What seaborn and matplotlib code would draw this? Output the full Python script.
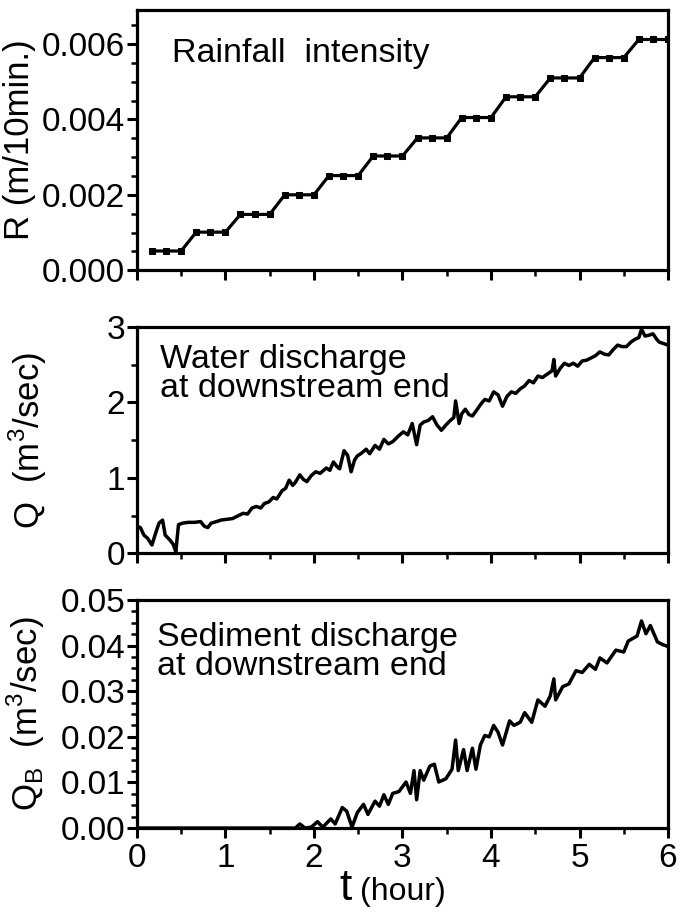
import matplotlib
matplotlib.use("Agg")
import matplotlib.pyplot as plt
import seaborn as sns
import pandas as pd
from matplotlib.ticker import MultipleLocator

sns.set_style("ticks")
plt.rcParams['font.family'] = ['Liberation Sans', 'DejaVu Sans']
plt.rcParams['mathtext.fontset'] = 'custom'
plt.rcParams['mathtext.rm'] = 'Liberation Sans'
for key in ['text.color', 'axes.labelcolor', 'xtick.color', 'ytick.color', 'axes.edgecolor']:
    plt.rcParams[key] = 'black'

# rainfall intensity, one point every 10 minutes
rain_t = [0.17, 0.33, 0.50, 0.67, 0.83, 1.00, 1.17, 1.33, 1.50, 1.67, 1.83, 2.00,
          2.17, 2.33, 2.50, 2.67, 2.83, 3.00, 3.17, 3.33, 3.50, 3.67, 3.83, 4.00,
          4.17, 4.33, 4.50, 4.67, 4.83, 5.00, 5.17, 5.33, 5.50, 5.67, 5.83, 6.00]
rain_r = [0.00051, 0.00051, 0.00051, 0.00101, 0.00101, 0.00101,
          0.00148, 0.00148, 0.00148, 0.00200, 0.00200, 0.00200,
          0.00251, 0.00251, 0.00251, 0.00303, 0.00303, 0.00303,
          0.00351, 0.00351, 0.00351, 0.00405, 0.00405, 0.00405,
          0.00460, 0.00460, 0.00460, 0.00510, 0.00510, 0.00510,
          0.00564, 0.00564, 0.00564, 0.00612, 0.00612, 0.00612]

# water discharge
q_t = [0.00, 0.04, 0.08, 0.12, 0.17, 0.21, 0.25, 0.29, 0.32, 0.37,
       0.41, 0.44, 0.47, 0.52, 0.58, 0.65, 0.72, 0.76, 0.80, 0.84,
       0.90, 0.95, 1.02, 1.08, 1.15, 1.20, 1.25, 1.30, 1.35, 1.40,
       1.44, 1.49, 1.54, 1.58, 1.64, 1.68, 1.72, 1.76, 1.79, 1.84,
       1.88, 1.92, 1.97, 2.02, 2.07, 2.14, 2.18, 2.22, 2.26, 2.29,
       2.34, 2.38, 2.42, 2.46, 2.49, 2.54, 2.59, 2.63, 2.69, 2.74,
       2.79, 2.84, 2.89, 2.95, 3.01, 3.06, 3.11, 3.16, 3.20, 3.24,
       3.29, 3.34, 3.39, 3.44, 3.49, 3.54, 3.58, 3.60, 3.64, 3.67,
       3.71, 3.75, 3.79, 3.84, 3.88, 3.93, 3.98, 4.03, 4.08, 4.13,
       4.18, 4.23, 4.28, 4.33, 4.38, 4.43, 4.48, 4.53, 4.58, 4.64,
       4.69, 4.71, 4.73, 4.78, 4.83, 4.88, 4.93, 4.98, 5.03, 5.08,
       5.13, 5.18, 5.23, 5.28, 5.33, 5.38, 5.43, 5.48, 5.53, 5.58,
       5.63, 5.67, 5.70, 5.74, 5.78, 5.83, 5.87, 5.90, 5.95, 6.00]
q_val = [0.36, 0.34, 0.24, 0.20, 0.11, 0.26, 0.40, 0.44, 0.24, 0.18,
         0.12, 0.02, 0.38, 0.40, 0.41, 0.41, 0.42, 0.36, 0.34, 0.40,
         0.42, 0.44, 0.45, 0.46, 0.50, 0.53, 0.52, 0.60, 0.62, 0.60,
         0.66, 0.68, 0.74, 0.72, 0.83, 0.86, 0.97, 0.90, 0.94, 1.04,
         0.98, 0.95, 1.03, 1.08, 1.06, 1.13, 1.10, 1.21, 1.15, 1.12,
         1.36, 1.30, 1.08, 1.24, 1.29, 1.33, 1.38, 1.32, 1.43, 1.38,
         1.51, 1.45, 1.48, 1.55, 1.61, 1.57, 1.72, 1.44, 1.70, 1.74,
         1.76, 1.81, 1.70, 1.63, 1.70, 1.76, 1.80, 2.02, 1.72, 1.85,
         1.91, 1.84, 1.82, 1.90, 1.97, 2.04, 2.02, 2.14, 2.10, 1.95,
         2.08, 2.14, 2.12, 2.18, 2.22, 2.29, 2.26, 2.35, 2.33, 2.38,
         2.42, 2.57, 2.35, 2.45, 2.52, 2.49, 2.52, 2.48, 2.55, 2.56,
         2.59, 2.62, 2.67, 2.64, 2.63, 2.70, 2.76, 2.74, 2.74, 2.80,
         2.84, 2.86, 2.97, 2.88, 2.89, 2.91, 2.84, 2.80, 2.78, 2.76]

# sediment discharge
qb_t = [0.00, 1.79, 1.84, 1.90, 1.97, 2.04, 2.10, 2.19, 2.24, 2.32,
        2.37, 2.43, 2.49, 2.56, 2.61, 2.69, 2.74, 2.79, 2.84, 2.89,
        2.96, 3.04, 3.09, 3.13, 3.16, 3.20, 3.24, 3.31, 3.36, 3.41,
        3.49, 3.56, 3.60, 3.63, 3.69, 3.73, 3.79, 3.83, 3.88, 3.93,
        3.98, 4.03, 4.08, 4.13, 4.21, 4.26, 4.33, 4.38, 4.46, 4.53,
        4.61, 4.67, 4.71, 4.73, 4.81, 4.88, 4.96, 5.03, 5.11, 5.18,
        5.23, 5.31, 5.41, 5.50, 5.55, 5.65, 5.70, 5.75, 5.80, 5.88,
        5.94, 6.00]
qb_val = [0.0, 0.0, 0.0009, 0.0, 0.0002, 0.0014, 0.0002, 0.0020, 0.0009, 0.0045,
          0.0037, 0.0002, 0.0034, 0.0052, 0.0030, 0.0059, 0.0048, 0.0073, 0.0052, 0.0076,
          0.0080, 0.0101, 0.0076, 0.0126, 0.0062, 0.0126, 0.0105, 0.0136, 0.0140, 0.0101,
          0.0108, 0.0129, 0.0193, 0.0126, 0.0172, 0.0126, 0.0175, 0.0129, 0.0182, 0.0203,
          0.0200, 0.0225, 0.0210, 0.0182, 0.0235, 0.0225, 0.0232, 0.0253, 0.0232, 0.0281,
          0.0267, 0.0290, 0.0327, 0.0281, 0.0310, 0.0316, 0.0345, 0.0341, 0.0359, 0.0348,
          0.0373, 0.0362, 0.0390, 0.0386, 0.0410, 0.0421, 0.0454, 0.0426, 0.0444, 0.0408,
          0.0402, 0.0398]

rain_df = pd.DataFrame({'t': rain_t, 'R': rain_r})
q_df = pd.DataFrame({'t': q_t, 'Q': q_val})
qb_df = pd.DataFrame({'t': qb_t, 'QB': qb_val})

fig = plt.figure(figsize=(6.81, 9.16), dpi=100)
ax1 = fig.add_axes([0.201, 0.705, 0.780, 0.284])
ax2 = fig.add_axes([0.201, 0.396, 0.780, 0.247])
ax3 = fig.add_axes([0.201, 0.096, 0.780, 0.249])

sns.lineplot(data=rain_df, x='t', y='R', ax=ax1, color='black', lw=2.3,
             marker='s', markersize=4.5, markeredgecolor='black')
sns.lineplot(data=q_df, x='t', y='Q', ax=ax2, color='black', lw=2.5)
sns.lineplot(data=qb_df, x='t', y='QB', ax=ax3, color='black', lw=2.5)

for ax in (ax1, ax2, ax3):
    ax.set_xlim(0, 6)
    ax.xaxis.set_major_locator(MultipleLocator(1))
    ax.xaxis.set_minor_locator(MultipleLocator(0.5))
    for s in ax.spines.values():
        s.set_linewidth(2.3)
        s.set_color('black')
    ax.tick_params(which='major', direction='out', length=7, width=2.2, labelsize=24, pad=1.5,
                   colors='black')
    ax.tick_params(which='minor', direction='out', length=4, width=1.8, colors='black')
    ax.set_xlabel('')

ax1.set_ylim(0, 0.0069)
ax1.yaxis.set_minor_locator(MultipleLocator(0.0005))
ax1.set_yticks([0, 0.002, 0.004, 0.006])
ax1.set_yticklabels(['0.000', '0.002', '0.004', '0.006'])
ax1.tick_params(labelbottom=False)
ax1.set_ylabel('R (m/10min.)', fontsize=25)
ax1.yaxis.set_label_coords(-0.19, 0.5)
ax1.text(0.067, 0.80, 'Rainfall  intensity', transform=ax1.transAxes, fontsize=24.5)

ax2.set_ylim(0, 3)
ax2.yaxis.set_major_locator(MultipleLocator(1))
ax2.yaxis.set_minor_locator(MultipleLocator(0.5))
ax2.tick_params(labelbottom=False)
ax2.set_ylabel(r'Q  (m$^3$/sec)', fontsize=25)
ax2.yaxis.set_label_coords(-0.165, 0.5)
ax2.text(0.043, 0.69, 'Water discharge\nat downstream end', transform=ax2.transAxes,
         fontsize=24.5, linespacing=0.92)

ax3.set_ylim(0, 0.05)
ax3.yaxis.set_minor_locator(MultipleLocator(0.0025))
ax3.set_yticks([0, 0.01, 0.02, 0.03, 0.04, 0.05])
ax3.set_yticklabels(['0.00', '0.01', '0.02', '0.03', '0.04', '0.05'])
ax3.tick_params(axis='x', labelsize=24, pad=4)
ax3.set_ylabel(r'Q$_\mathrm{B}$  (m$^3$/sec)', fontsize=25)
ax3.yaxis.set_label_coords(-0.17, 0.5)
ax3.text(0.037, 0.67, 'Sediment discharge\nat downstream end', transform=ax3.transAxes,
         fontsize=24.5, linespacing=0.92)
ax3.text(0.405, -0.315, 't', transform=ax3.transAxes, fontsize=32, ha='right', va='baseline')
ax3.text(0.42, -0.315, '(hour)', transform=ax3.transAxes, fontsize=23, ha='left', va='baseline')

fig.savefig('out.png', dpi=100)
